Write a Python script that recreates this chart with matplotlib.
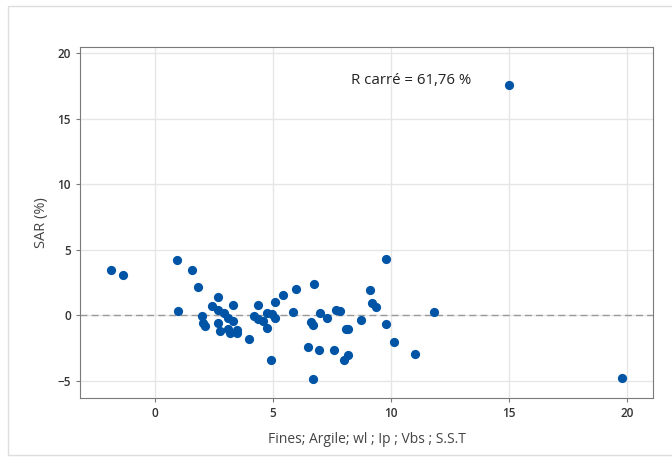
import matplotlib.pyplot as plt
from matplotlib.patches import Rectangle

# valeurs (ajustement vs SAR)
fit_x = [-1.86, -1.37, 0.92, 0.96, 1.57, 1.81, 2.0, 2.05, 2.1, 2.43, 2.68, 2.68,
         2.68, 2.75, 2.9, 3.1, 3.1, 3.18, 3.29, 3.32, 3.46, 3.46, 4.0, 4.2, 4.35,
         4.38, 4.59, 4.73, 4.73, 4.9, 4.94, 5.06, 5.08, 5.4, 5.86, 5.99, 6.48,
         6.61, 6.68, 6.7, 6.72, 6.93, 6.98, 7.29, 7.58, 7.67, 7.84, 8.02, 8.09,
         8.16, 8.19, 8.71, 9.12, 9.2, 9.36, 9.8, 9.8, 10.11, 11.03, 11.83, 15.0,
         19.8]
sar = [3.49, 3.05, 4.2, 0.33, 3.49, 2.2, -0.05, -0.6, -0.8, 0.71, 1.43, 0.4,
       -0.56, -1.2, 0.15, -0.18, -1.07, -1.32, 0.79, -0.43, -1.1, -1.32, -1.78,
       -0.05, 0.79, -0.25, -0.43, -0.94, 0.2, -3.38, 0.08, 1.02, -0.18, 1.53,
       0.25, 2.04, -2.39, -0.5, -4.86, -0.7, 2.42, -2.67, 0.15, -0.23, -2.67,
       0.43, 0.33, -3.41, -1.02, -1.07, -3.03, -0.33, 1.93, 0.92, 0.63, 4.27,
       -0.69, -2.04, -2.95, 0.25, 17.6, -4.8]

xticks = [0, 5, 10, 15, 20]
yticks = [-5, 0, 5, 10, 15, 20]

plt.rcParams['font.family'] = ['Open Sans', 'DejaVu Sans']

fig = plt.figure(figsize=(6.72, 4.59), dpi=100)
ax = fig.add_axes([0.119, 0.133, 0.853, 0.765])

# cadre extérieur
fig.patches.append(Rectangle((0.012, 0.008), 1.2, 0.98, transform=fig.transFigure,
                             fill=False, edgecolor='#dddddd', linewidth=1))

ax.scatter(fit_x, sar, s=44, color='#0054a6', zorder=3, linewidths=0)
ax.axhline(0, color='#9a9a9a', linestyle=(0, (5, 3)), linewidth=1, zorder=2)

ax.set_xlim(-3.18, 21.1)
ax.set_ylim(-6.3, 20.5)
ax.set_xticks(xticks)
ax.set_yticks(yticks)
ax.grid(True, color='#e6e6e6', linewidth=1)
ax.set_axisbelow(True)

for s in ax.spines.values():
    s.set_color('#7a7a7a')
ax.tick_params(colors='#333333', labelsize=8.5, length=3, color='#7a7a7a')
for lab in ax.get_xticklabels() + ax.get_yticklabels():
    lab.set_fontweight('semibold')

ax.set_xlabel('Fines; Argile; wl ; Ip ; Vbs ; S.S.T', fontsize=10, color='#444444',
              labelpad=9)
ax.set_ylabel('SAR (%)', fontsize=10.5, color='#444444', labelpad=6)

ax.text(8.3, 17.9, 'R carré = 61,76 %', fontsize=10.8, color='#222222', va='center')

fig.savefig('out.png', dpi=100)
